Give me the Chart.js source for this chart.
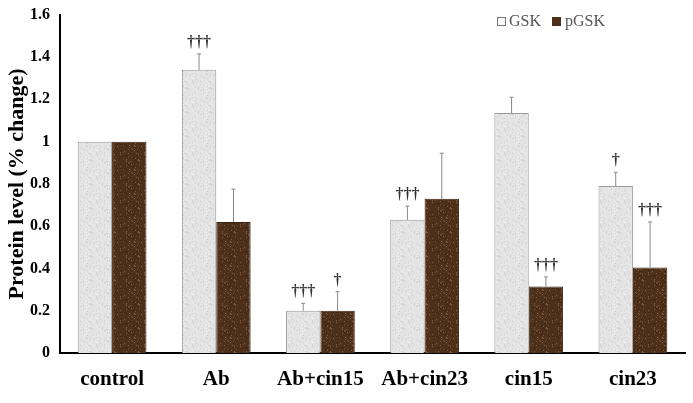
<!DOCTYPE html>
<html>
<head>
<meta charset="utf-8">
<script src="https://cdn.jsdelivr.net/npm/chart.js@4"></script>
<style>
  body { margin: 0; background: #fff; }
  #wrap { width: 693px; height: 403px; position: relative; }
</style>
</head>
<body>
<div id="wrap"><canvas id="proteinChart"></canvas></div>
<script>
const groups = ["control", "Ab", "Ab+cin15", "Ab+cin23", "cin15", "cin23"];
const gskValues = [1, 1.34, 0.2, 0.63, 1.135, 0.79];
const pgskValues = [1, 0.62, 0.2, 0.73, 0.315, 0.405];
const gskError = [0, 0.075, 0.035, 0.065, 0.075, 0.065];
const pgskError = [0, 0.155, 0.09, 0.215, 0.045, 0.215];
const gskMarks = ["", "\u2020\u2020\u2020", "\u2020\u2020\u2020", "\u2020\u2020\u2020", "", "\u2020"];
const pgskMarks = ["", "", "\u2020", "", "\u2020\u2020\u2020", "\u2020\u2020\u2020"];
const yTicks = [0, 0.2, 0.4, 0.6, 0.8, 1, 1.2, 1.4, 1.6];

const serif = "'Liberation Serif', 'DejaVu Serif', serif";

// speckle texture for bar fills (deterministic)
function makePattern(base, spots) {
    const c = document.createElement("canvas");
    c.width = 24; c.height = 24;
    const g = c.getContext("2d");
    g.fillStyle = base;
    g.fillRect(0, 0, 24, 24);
    let s = 7;
    for (let i = 0; i < 90; i++) {
        s = (s * 73 + 41) % 997;
        const x = s % 24;
        s = (s * 73 + 41) % 997;
        const y = s % 24;
        g.fillStyle = spots[i % spots.length];
        g.fillRect(x, y, 1, 1);
    }
    return g.createPattern(c, "repeat");
}

const lightFill = makePattern("#e4e4e4", ["#d2d2d2", "#f2f2f2", "#cccccc"]);
const darkFill = makePattern("#4d301a", ["#6b4427", "#3a200e", "#8a6040"]);

// error bars + dagger marks
const extrasPlugin = {
    id: "extras",
    afterDatasetsDraw(chart) {
        const ctx = chart.ctx;
        const y = chart.scales.y;
        const sets = [[gskValues, gskError, gskMarks], [pgskValues, pgskError, pgskMarks]];
        sets.forEach(([vals, errs, marks], di) => {
            const meta = chart.getDatasetMeta(di);
            meta.data.forEach((bar, i) => {
                const top = y.getPixelForValue(vals[i]);
                const tip = y.getPixelForValue(vals[i] + errs[i]);
                ctx.save();
                if (errs[i] > 0) {
                    ctx.strokeStyle = "#888";
                    ctx.lineWidth = 1;
                    ctx.beginPath();
                    ctx.moveTo(bar.x, top);
                    ctx.lineTo(bar.x, tip);
                    ctx.moveTo(bar.x - 2, tip);
                    ctx.lineTo(bar.x + 2, tip);
                    ctx.stroke();
                }
                if (marks[i]) {
                    ctx.fillStyle = "#333";
                    ctx.font = "bold 16px " + serif;
                    ctx.textAlign = "center";
                    ctx.textBaseline = "bottom";
                    ctx.fillText(marks[i], bar.x, tip - 3);
                }
                ctx.restore();
            });
        });
    },
    afterDraw(chart) {
        // legend in the top right
        const ctx = chart.ctx;
        ctx.save();
        ctx.font = "16px " + serif;
        ctx.textBaseline = "middle";
        ctx.fillStyle = "#fff";
        ctx.strokeStyle = "#777";
        ctx.lineWidth = 1;
        ctx.fillRect(497.5, 17.5, 8, 8);
        ctx.strokeRect(497.5, 17.5, 8, 8);
        ctx.fillStyle = "#555";
        ctx.fillText("GSK", 509, 22);
        ctx.fillStyle = "#4d301a";
        ctx.fillRect(552, 17, 9, 9);
        ctx.fillStyle = "#555";
        ctx.fillText("pGSK", 565, 22);
        ctx.restore();
    }
};

new Chart(document.getElementById("proteinChart"), {
    type: "bar",
    data: {
        labels: groups,
        datasets: [
            {
                label: "GSK",
                data: gskValues,
                backgroundColor: lightFill,
                borderColor: "#9a9a9a",
                borderWidth: 1,
                borderSkipped: "bottom"
            },
            {
                label: "pGSK",
                data: pgskValues,
                backgroundColor: darkFill,
                borderColor: "#3a200e",
                borderWidth: 1,
                borderSkipped: "bottom"
            }
        ]
    },
    options: {
        responsive: true,
        maintainAspectRatio: false,
        animation: false,
        layout: { padding: { top: 0, right: 8, left: 4, bottom: 0 } },
        datasets: { bar: { categoryPercentage: 0.66, barPercentage: 1 } },
        scales: {
            x: {
                grid: { display: false, drawTicks: false },
                border: { color: "#000", width: 2 },
                ticks: { color: "#000", padding: 14, font: { family: serif, size: 21, weight: "bold" } },
                afterFit: axis => { axis.height = 50; }
            },
            y: {
                min: 0,
                max: 1.6,
                afterBuildTicks: axis => { axis.ticks = yTicks.map(v => ({ value: v })); },
                grid: { display: false, drawTicks: false },
                border: { color: "#000", width: 2 },
                ticks: {
                    color: "#000",
                    padding: 10,
                    font: { family: serif, size: 16, weight: "bold", lineHeight: 0.6 },
                    callback: v => String(Math.round(v * 10) / 10)
                },
                title: {
                    display: true,
                    text: "Protein level (% change)",
                    color: "#000",
                    padding: 0,
                    font: { family: serif, size: 22, weight: "bold" }
                },
                afterFit: axis => { axis.width = 56; }
            }
        },
        plugins: {
            legend: { display: false },
            tooltip: { enabled: false }
        }
    },
    plugins: [extrasPlugin]
});
</script>
</body>
</html>
